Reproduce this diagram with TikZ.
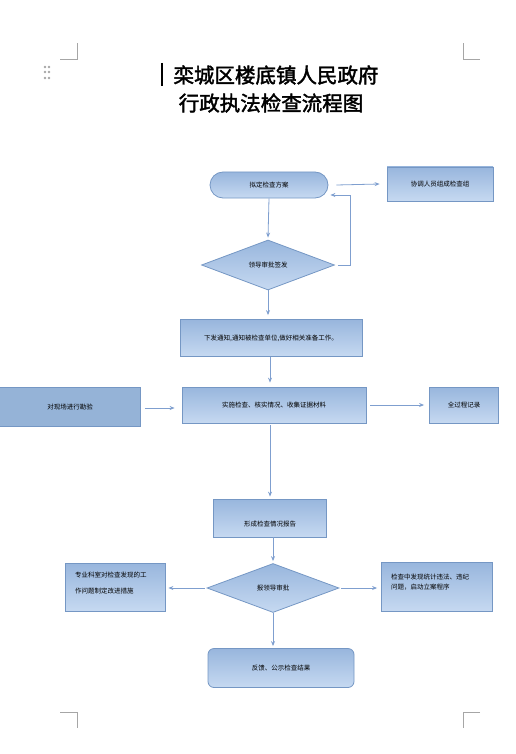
\documentclass[tikz,border=0pt]{standalone}
\usepackage{fontspec}
\newfontfamily\cjk{Noto Sans CJK SC}
\newfontfamily\cjktitle[FakeBold=2]{Noto Sans CJK SC}
\usepackage{tikz}
\usetikzlibrary{arrows.meta,calc,shapes.geometric,shapes.misc}

\definecolor{boxtop}{HTML}{98B6DD}
\definecolor{boxbot}{HTML}{C6D9F1}
\definecolor{boxedge}{HTML}{7597C4}
\definecolor{flatfill}{HTML}{95B3D7}
\definecolor{flowline}{HTML}{7F9FCF}
\definecolor{markgrey}{HTML}{A6A6A6}

\begin{document}
\begin{tikzpicture}[x=1pt,y=-1pt,
    procbox/.style={draw=boxedge, line width=0.8pt, top color=boxtop, bottom color=boxbot,
        font=\cjk\fontsize{6.5}{8}\selectfont, inner sep=2pt},
    decision/.style={procbox, diamond, inner sep=0pt},
    flowarrow/.style={draw=flowline, line width=0.8pt, -{Stealth[length=5pt,width=4pt]}},
    cornermark/.style={draw=markgrey, line width=0.6pt}]
    \useasboundingbox (0,0) rectangle (515,754);
    % page corners and grip
    \draw[cornermark] (60,59) -- (77,59) -- (77,43);
    \draw[cornermark] (480,59) -- (463,59) -- (463,43);
    \draw[cornermark] (60,712) -- (77,712) -- (77,728);
    \draw[cornermark] (480,712) -- (463,712) -- (463,728);
    \foreach \gx in {45,49}
        \foreach \gy in {67,72,78}
            \fill[markgrey] (\gx,\gy) circle (1.3pt);
    \draw[line width=1.4pt] (162,63) -- (162,86);
    \node[font=\cjktitle\fontsize{20.5}{22}\selectfont] (title1) at (276,75) {栾城区楼底镇人民政府};
    \node[font=\cjktitle\fontsize{20.5}{22}\selectfont] (title2) at (271,103) {行政执法检查流程图};
    % flow
    \node[procbox, rounded corners=13pt, minimum width=118pt, minimum height=26pt] (plan) at (269,185) {拟定检查方案};
    \node[procbox, minimum width=106pt, minimum height=34pt] (team) at (440,184) {协调人员组成检查组};
    \node[decision, minimum width=133pt, minimum height=50pt] (sign) at (268,265) {领导审批签发};
    \node[procbox, minimum width=182pt, minimum height=37pt] (notice) at (271,338) {下发通知,通知被检查单位,做好相关准备工作。};
    \node[procbox, minimum width=184pt, minimum height=36pt] (check) at (274,405) {实施检查、核实情况、收集证据材料};
    \node[draw=boxedge, line width=0.8pt, fill=flatfill, font=\cjk\fontsize{6.5}{8}\selectfont,
        minimum width=141pt, minimum height=39pt] (site) at (70,407) {对现场进行勘验};
    \node[procbox, minimum width=69pt, minimum height=36pt] (record) at (464,405) {全过程记录};
    \node[procbox, minimum width=113pt, minimum height=38pt, text height=18pt] (report) at (270,518) {形成检查情况报告};
    \node[decision, minimum width=132pt, minimum height=49pt] (approve) at (273,588) {报领导审批};
    \node[procbox, minimum width=100pt, minimum height=48pt] (dept) at (115,587)
        {\parbox[t][30pt][t]{80pt}{\fontsize{6.5}{16}\selectfont 专业科室对检查发现的工\\作问题制定改进措施}};
    \node[procbox, minimum width=111pt, minimum height=49pt] (case) at (437,587)
        {\parbox[t][27pt][t]{92pt}{\fontsize{6.5}{10}\selectfont 检查中发现统计违法、违纪\\问题，启动立案程序}};
    \node[procbox, rounded corners=6pt, minimum width=146pt, minimum height=39pt] (result) at (281,668) {反馈、公示检查结果};
    % connectors
    \draw[flowarrow] ($(plan.east)+(8,0)$) -- ($(team.west)+(-7,0)$);
    \draw[flowarrow] (plan.south) -- ($(sign.north)+(0,-2)$);
    \draw[flowarrow] ($(sign.east)+(3,0)$) -- (350,265) -- (350,195) -- ($(plan.east)+(2,10)$);
    \draw[flowarrow] (sign.south) -- ($(notice.north)+(-3,-4)$);
    \draw[flowarrow] (270,357) -- ($(check.north)+(-4,-4)$);
    \draw[flowarrow] ($(site.east)+(4,1)$) -- ($(check.west)+(-7,3)$);
    \draw[flowarrow] ($(check.east)+(4,0)$) -- ($(record.west)+(-5,0)$);
    \draw[flowarrow] (270,425) -- ($(report.north)+(0,-2)$);
    \draw[flowarrow] ($(report.south)+(3,0)$) -- ($(approve.north)+(0,-2)$);
    \draw[flowarrow] ($(approve.west)+(-2,0)$) -- ($(dept.east)+(3,1)$);
    \draw[flowarrow] ($(approve.east)+(2,0)$) -- ($(case.west)+(-4,1)$);
    \draw[flowarrow] (approve.south) -- ($(result.north)+(-8,-2)$);
\end{tikzpicture}
\end{document}
